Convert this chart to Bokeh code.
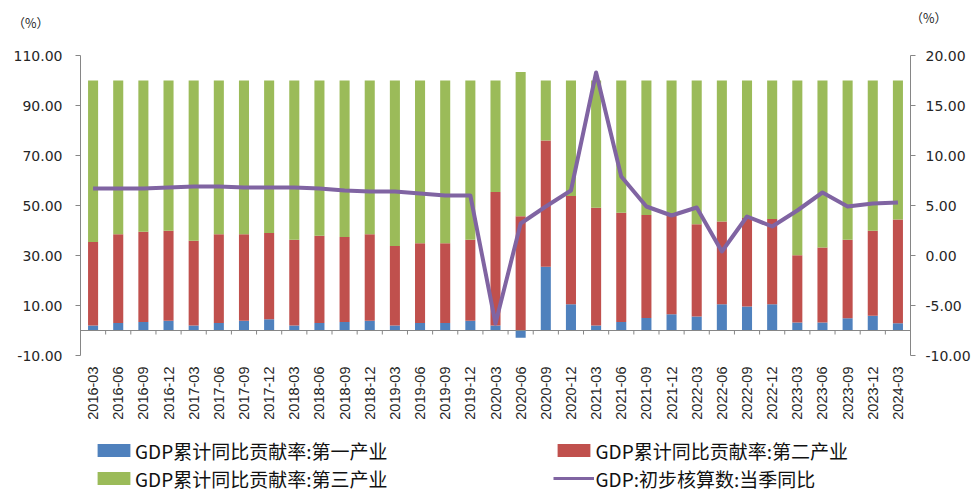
import numpy as np
from bokeh.plotting import figure
from bokeh.layouts import column
from bokeh.models import (ColumnDataSource, FactorRange, Range1d, LinearAxis, FixedTicker,
                          NumeralTickFormatter, Span, Legend, LegendItem, Label)
from bokeh.transform import dodge
from bokeh.core.properties import value
from bokeh.embed import file_html
from bokeh.resources import INLINE

quarters = ["2016-03", "2016-06", "2016-09", "2016-12", "2017-03", "2017-06", "2017-09", "2017-12",
            "2018-03", "2018-06", "2018-09", "2018-12", "2019-03", "2019-06", "2019-09", "2019-12",
            "2020-03", "2020-06", "2020-09", "2020-12", "2021-03", "2021-06", "2021-09", "2021-12",
            "2022-03", "2022-06", "2022-09", "2022-12", "2023-03", "2023-06", "2023-09", "2023-12",
            "2024-03"]

primary = [2.0, 3.0, 3.4, 3.9, 2.0, 3.0, 3.9, 4.5, 2.0, 3.0, 3.4, 3.9, 2.0, 3.0, 3.0, 3.9,
           2.0, -2.9, 25.5, 10.5, 2.0, 3.4, 5.0, 6.5, 5.6, 10.5, 9.6, 10.5, 3.2, 3.2, 4.9, 5.9, 2.9]
secondary = [33.4, 35.5, 36.1, 36.0, 33.9, 35.5, 34.6, 34.5, 34.3, 34.9, 34.0, 34.6, 31.8, 31.9, 31.9, 32.4,
             53.4, 45.7, 50.5, 43.3, 47.1, 43.7, 41.2, 39.3, 36.9, 33.1, 35.4, 34.1, 26.9, 30.0, 31.4, 34.0, 41.5]
tertiary = [64.6, 61.5, 60.5, 60.1, 64.1, 61.5, 61.5, 61.0, 63.7, 62.1, 62.6, 61.5, 66.2, 65.1, 65.1, 63.7,
            44.6, 57.7, 24.0, 46.2, 50.9, 52.9, 53.8, 54.2, 57.5, 56.4, 55.0, 55.4, 69.9, 66.8, 63.7, 60.1, 55.6]
gdp_yoy = [6.7, 6.7, 6.7, 6.8, 6.9, 6.9, 6.8, 6.8, 6.8, 6.7, 6.5, 6.4, 6.4, 6.2, 6.0, 6.0,
           -6.8, 3.2, 4.9, 6.5, 18.3, 7.9, 4.9, 4.0, 4.8, 0.4, 3.9, 2.9, 4.5, 6.3, 4.9, 5.2, 5.3]

left_ticks = [-10, 10, 30, 50, 70, 90, 110]
right_ticks = [-10, -5, 0, 5, 10, 15, 20]

labels = ["GDP累计同比贡献率:第一产业", "GDP累计同比贡献率:第二产业",
          "GDP累计同比贡献率:第三产业", "GDP:初步核算数:当季同比"]
unit_label = "（%）"

BLUE, RED, GREEN, PURPLE = "#4F81BD", "#C0504D", "#9BBB59", "#8064A2"
AXIS = "#868686"
TXT = "#262626"
W_PAGE = 979


def bare_figure(h):
    f = figure(frame_width=W_PAGE, frame_height=h, x_range=Range1d(0, 1), y_range=Range1d(0, 1),
               x_axis_type=None, y_axis_type=None,
               output_backend="svg", toolbar_location=None, min_border=0)
    if "frame_align" in f.properties():
        f.frame_align = False
    f.outline_line_color = None
    f.border_fill_color = "white"
    f.background_fill_color = "white"
    return f


# ---------- top strip: unit captions ----------
top = bare_figure(40)
for xx, yy in [(12, 18), (910, 23)]:
    top.add_layout(Label(x=xx, y=yy, x_units="screen", y_units="screen", text=unit_label,
                         text_font="Noto Sans CJK SC", text_font_size="12.5px",
                         text_color=TXT, text_baseline="middle", text_align="left"))

# ---------- main chart ----------
p1 = np.array(primary)
p2 = np.array(secondary)
p3 = np.array(tertiary)
b_bottom = np.zeros_like(p1)
b_top = p1
r_bottom = np.maximum(p1, 0)
r_top = r_bottom + p2
g_bottom = r_top
g_top = g_bottom + p3

src = ColumnDataSource(dict(q=quarters, b0=b_bottom, b1=b_top, r0=r_bottom, r1=r_top,
                            g0=g_bottom, g1=g_top, gdp=gdp_yoy,
                            t0=[0.0] * len(quarters), t1=[-1.6] * len(quarters)))

p = figure(x_range=FactorRange(*quarters, range_padding=0), y_range=Range1d(left_ticks[0], left_ticks[-1]),
           width=W_PAGE, height=385, output_backend="svg", toolbar_location=None,
           min_border_left=80, min_border_right=69, min_border_top=15, min_border_bottom=70)
if "frame_align" in p.properties():
    p.frame_align = False
p.extra_y_ranges = {"r": Range1d(right_ticks[0], right_ticks[-1])}
p.outline_line_color = None
p.xgrid.visible = False
p.ygrid.visible = False
p.background_fill_color = "white"
p.border_fill_color = "white"

p.add_layout(Span(location=0, dimension="width", line_color=AXIS, line_width=1))
p.segment(x0=dodge("q", 0.5, range=p.x_range), x1=dodge("q", 0.5, range=p.x_range),
          y0="t0", y1="t1", source=src, line_color=AXIS, line_width=1)

W = 0.4
p.vbar(x="q", bottom="b0", top="b1", width=W, source=src, fill_color=BLUE, line_color=None)
p.vbar(x="q", bottom="r0", top="r1", width=W, source=src, fill_color=RED, line_color=None)
p.vbar(x="q", bottom="g0", top="g1", width=W, source=src, fill_color=GREEN, line_color=None)
p.line(x="q", y="gdp", source=src, y_range_name="r", line_color=PURPLE, line_width=4,
       line_join="round")

xa = p.xaxis[0]
xa.axis_line_color = None
xa.major_tick_line_color = None
xa.major_tick_out = 0
xa.minor_tick_line_color = None
xa.major_label_orientation = np.pi / 2
xa.major_label_standoff = 11
xa.major_label_text_font = "Liberation Sans"
xa.major_label_text_font_size = "14.5px"
xa.major_label_text_color = TXT

ya = p.yaxis[0]
ya.ticker = FixedTicker(ticks=left_ticks)
ya.formatter = NumeralTickFormatter(format="0.00")
ya.axis_line_color = AXIS
ya.major_tick_line_color = AXIS
ya.major_tick_out = 5
ya.major_tick_in = 0
ya.minor_tick_line_color = None
ya.major_label_standoff = 13
ya.major_label_text_font = "DejaVu Sans"
ya.major_label_text_font_size = "14px"
ya.major_label_text_color = TXT

ra = LinearAxis(y_range_name="r", ticker=FixedTicker(ticks=right_ticks),
                formatter=NumeralTickFormatter(format="0.00"))
ra.axis_line_color = AXIS
ra.major_tick_line_color = AXIS
ra.major_tick_out = 5
ra.major_tick_in = 0
ra.minor_tick_line_color = None
ra.major_label_standoff = 10
ra.major_label_text_font = "DejaVu Sans"
ra.major_label_text_font_size = "14px"
ra.major_label_text_color = TXT
p.add_layout(ra, "right")

# ---------- bottom strip: legend (proxy glyphs lie outside the visible range) ----------
bot = bare_figure(67)
lb = bot.vbar(x=[5], bottom=[5], top=[6], width=0.1, fill_color=BLUE, line_color=None)
lr = bot.vbar(x=[5], bottom=[5], top=[6], width=0.1, fill_color=RED, line_color=None)
lg = bot.vbar(x=[5], bottom=[5], top=[6], width=0.1, fill_color=GREEN, line_color=None)
ll = bot.line(x=[5, 6], y=[5, 5], line_color=PURPLE, line_width=3)


def row_legend(items, loc):
    return Legend(items=items, orientation="horizontal", location=loc,
                  glyph_width=41, glyph_height=16, label_standoff=1, spacing=166,
                  label_height=28, padding=0, margin=0, border_line_color=None,
                  background_fill_alpha=0,
                  label_text_font="Noto Sans CJK SC", label_text_font_size="19px",
                  label_text_color="#111111")


bot.add_layout(row_legend([LegendItem(label=value(labels[0]), renderers=[lb]),
                           LegendItem(label=value(labels[1]), renderers=[lr])], (93, 28)))
bot.add_layout(row_legend([LegendItem(label=value(labels[2]), renderers=[lg]),
                           LegendItem(label=value(labels[3]), renderers=[ll])], (93, 0)))

layout = column(top, p, bot, spacing=0)
open("out.html", "w").write(file_html(layout, INLINE))
